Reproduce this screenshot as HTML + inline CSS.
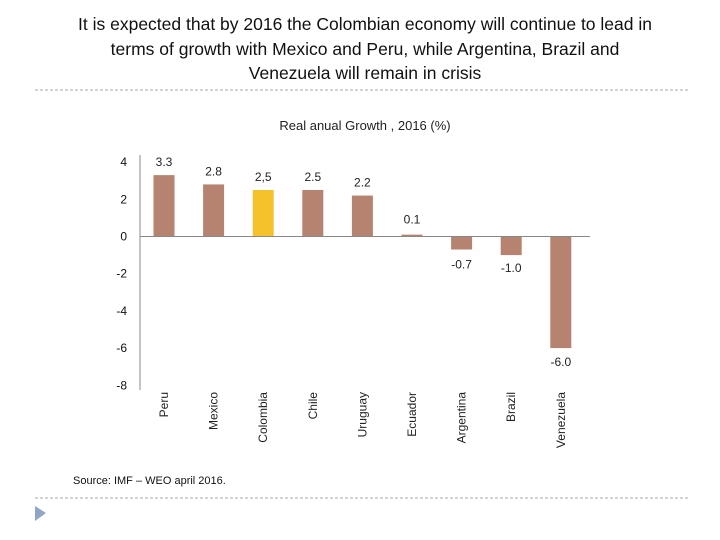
<!DOCTYPE html>
<html><head><meta charset="utf-8"><style>
body{margin:0;width:720px;height:540px;background:#fff;overflow:hidden;font-family:"Liberation Sans",sans-serif}
#title{position:absolute;left:0;top:12px;width:730px;text-align:center;font-size:17.5px;line-height:24.5px;color:#111}
</style></head><body>
<div id="title">It is expected that by 2016 the Colombian economy will continue to lead in<br>terms of growth with Mexico and Peru, while Argentina, Brazil and<br>Venezuela will remain in crisis</div>
<svg id="c" width="720" height="540" style="position:absolute;left:0;top:0">
<line x1="35" y1="90" x2="690" y2="90" stroke="#aaa" stroke-dasharray="3,2"/>
<line x1="35" y1="498" x2="690" y2="498" stroke="#aaa" stroke-dasharray="3,2"/>
<polygon points="35,506 46,513 35,521" fill="#8fa6c4"/>
<text x="365" y="130" text-anchor="middle" font-size="13" fill="#222">Real anual Growth , 2016 (%)</text>
<text x="73" y="484" font-size="11" fill="#111">Source: IMF – WEO april 2016.</text>
<g id="g"></g>
</svg>
<script>
const categories=["Peru","Mexico","Colombia","Chile","Uruguay","Ecuador","Argentina","Brazil","Venezuela"];
const values=[3.3,2.8,2.5,2.5,2.2,0.1,-0.7,-1.0,-6.0];
const valueLabels=["3.3","2.8","2,5","2.5","2.2","0.1","-0.7","-1.0","-6.0"];
const yTicks=[4,2,0,-2,-4,-6,-8];
const NS="http://www.w3.org/2000/svg",g=document.getElementById('g');
const y=v=>236.5-v*18.6;
const x=i=>164+i*49.6;
function mk(t,a){const e=document.createElementNS(NS,t);for(const k in a)e.setAttribute(k,a[k]);g.appendChild(e);return e;}
let ax=mk('line',{x1:140,y1:155,x2:140,y2:390,stroke:'#888'});


yTicks.forEach(t=>{const e=mk('text',{x:127,y:y(t)+4,'text-anchor':'end','font-size':12,fill:'#111'});e.textContent=t;

});
values.forEach((v,i)=>{
 const b=mk('rect',{x:x(i)-10.5,y:Math.min(y(v),y(0)),width:21,height:Math.abs(y(v)-y(0)),fill:i==2?'#f5c22b':'#b5836f'});
 
 
 let ly=v>=0.5?y(v)-9:(v>=0?y(v)-11:y(v)+20);
 if(i==6) ly=y(v)+19;
 if(i==7) ly=y(v)+17;
 if(i==8) ly=y(v)+18;
 const l=mk('text',{x:x(i),y:ly,'text-anchor':'middle','font-size':12,fill:'#222'});
 l.textContent=valueLabels[i];
 
 
 const c=mk('text',{transform:`translate(${x(i)+4},392) rotate(-90)`,'text-anchor':'end','font-size':12,fill:'#222'});
 c.textContent=categories[i];
 
 
});
let z=mk('line',{x1:140,y1:y(0),x2:590,y2:y(0),stroke:'#888'});


</script>
</body></html>
